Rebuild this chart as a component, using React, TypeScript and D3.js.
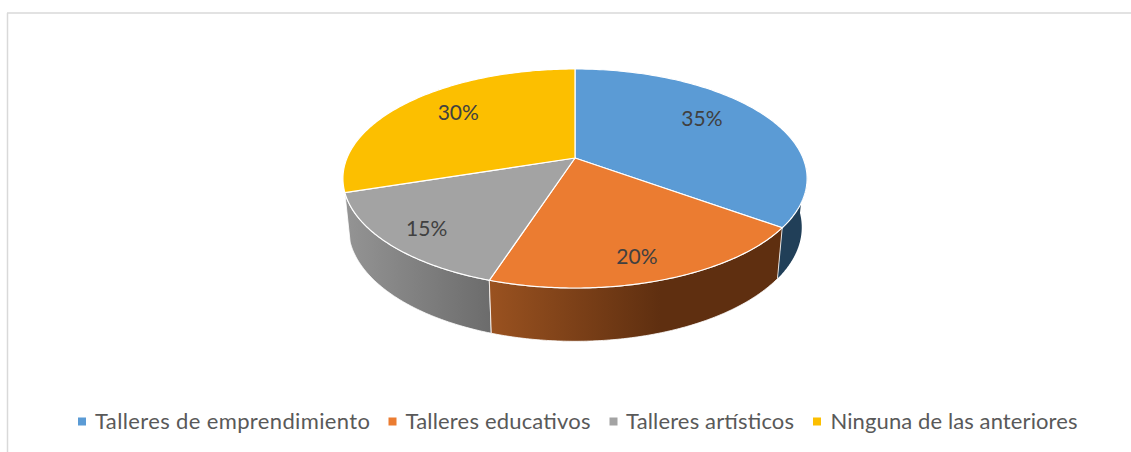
import React from "react";
import * as d3 from "d3";

const categories = ["Talleres de emprendimiento", "Talleres educativos", "Talleres artísticos", "Ninguna de las anteriores"];
const values = [35, 20, 15, 30];
const colors = ["#5b9bd5", "#eb7c31", "#a3a3a3", "#fcbf00"];

// layout constants
const WIDTH = 1131;
const HEIGHT = 452;
const CX = 575;
const TOP_CY = 158;
const R = 228;
const PERSP = 0.187;
const TOP_K = 105.7;
const SIDE_CY = 206;
const SIDE_K = 110;
const SIDE_SX = 0.977;
const SIDE_VISIBLE: [number, number] = [0.26 * 2 * Math.PI, 0.7 * 2 * Math.PI];
const labelRadius = [0.66, 0.76, 0.82, 0.68];
const labelDy = [-11, 9, 0.5, -7];
const legendMarkerX = [78, 388.5, 609.5, 813];
const legendTextX = [95, 405.5, 626, 830.5];
const legendTextW = [275, 185, 168, 247];

const project = (angle: number, r: number, cy: number, k: number, sx = 1): [number, number] => {
  const x = Math.sin(angle) * r;
  const y = -Math.cos(angle) * r;
  const p = 1 / (1 - PERSP * y);
  return [CX + R * sx * x * p, cy + k * y * p];
};

const arcs = d3.pie<number>().sort(null)(values);

const line = d3.line();

const rimPts = (a0: number, a1: number, cy: number, k: number, sx = 1) =>
  d3.range(0, 121).map((i) => project(a0 + ((a1 - a0) * i) / 120, 1, cy, k, sx));

const topPath = (a0: number, a1: number) =>
  line([[CX, TOP_CY], ...rimPts(a0, a1, TOP_CY, TOP_K)])! + "Z";

const sidePath = (a0: number, a1: number) =>
  line([...rimPts(a0, a1, TOP_CY, TOP_K), ...rimPts(a1, a0, SIDE_CY, SIDE_K, SIDE_SX)])! + "Z";

const sideFill = ["#213f58", "url(#sideOrange)", "url(#sideGray)", "#7f6000"];
const sideStroke = ["none", "#ffffff", "#ffffff", "none"];
// paint far sides first so nearer walls overlap them
const sideOrder = [0, 2, 1];

export default function App() {
  return (
    <svg
      width={WIDTH}
      height={HEIGHT}
      style={{ position: "absolute", left: 0, top: 0, background: "#fff" }}
    >
      <defs>
        <linearGradient id="sideOrange" gradientUnits="userSpaceOnUse" x1={489} x2={660} y1={0} y2={0}>
          <stop offset="0" stopColor="#9a5220" />
          <stop offset="1" stopColor="#5f2f10" />
        </linearGradient>
        <linearGradient id="sideGray" gradientUnits="userSpaceOnUse" x1={345} x2={491} y1={0} y2={0}>
          <stop offset="0" stopColor="#949494" />
          <stop offset="1" stopColor="#6c6c6c" />
        </linearGradient>
      </defs>

      <line x1={7.5} x2={7.5} y1={13} y2={HEIGHT} stroke="#d9d9d9" strokeWidth={1.5} />
      <line x1={7} x2={WIDTH} y1={13} y2={13} stroke="#d9d9d9" strokeWidth={1.5} />

      {sideOrder.map((i) => {
        const a0 = Math.max(arcs[i].startAngle, SIDE_VISIBLE[0]);
        const a1 = Math.min(arcs[i].endAngle, SIDE_VISIBLE[1]);
        return (
          <path
            key={i}
            d={sidePath(a0, a1)}
            fill={sideFill[i]}
            stroke={sideStroke[i]}
            strokeWidth={1}
            strokeOpacity={0.8}
          />
        );
      })}

      {arcs.map((a, i) => (
        <path key={i} d={topPath(a.startAngle, a.endAngle)} fill={colors[i]} stroke="#fff" strokeWidth={1.2} />
      ))}

      {arcs.map((a, i) => {
        const mid = (a.startAngle + a.endAngle) / 2;
        const [x, y] = project(mid, labelRadius[i], TOP_CY, TOP_K);
        return (
          <text
            key={i}
            x={x}
            y={y + labelDy[i]}
            textAnchor="middle"
            dominantBaseline="central"
            fontFamily="Lato, 'Open Sans', sans-serif"
            fontSize={21}
            fill="#404040"
          >
            {values[i]}%
          </text>
        );
      })}

      {categories.map((c, i) => (
        <g key={c}>
          <rect x={legendMarkerX[i]} y={417.5} width={8} height={8} fill={colors[i]} />
          <text
            x={legendTextX[i]}
            y={428.5}
            textLength={legendTextW[i]}
            lengthAdjust="spacing"
            fontFamily="Lato, 'Open Sans', sans-serif"
            fontSize={22}
            fill="#595959"
          >
            {c}
          </text>
        </g>
      ))}
    </svg>
  );
}
